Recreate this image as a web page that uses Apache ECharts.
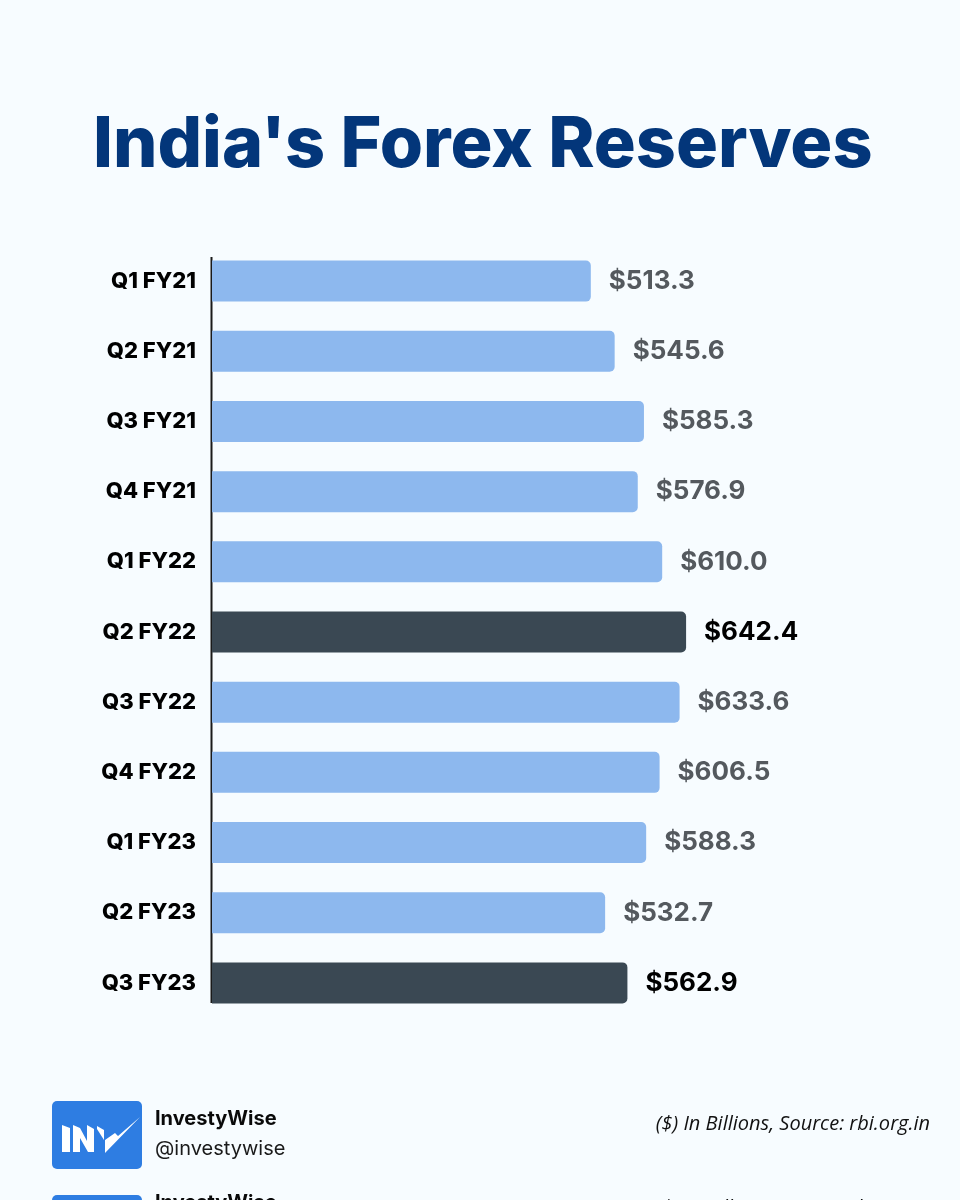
<!DOCTYPE html>
<html>
<head>
<meta charset="utf-8">
<style>
    html, body { margin: 0; padding: 0; background: #f7fcff; }
    #chart { width: 960px; height: 1200px; }
</style>
</head>
<body>
<div id="chart"></div>
<script src="https://cdn.jsdelivr.net/npm/echarts@6/dist/echarts.min.js"></script>
<script>
    var quarters = ['Q1 FY21', 'Q2 FY21', 'Q3 FY21', 'Q4 FY21', 'Q1 FY22', 'Q2 FY22',
        'Q3 FY22', 'Q4 FY22', 'Q1 FY23', 'Q2 FY23', 'Q3 FY23'];
    var reserves = [513.3, 545.6, 585.3, 576.9, 610.0, 642.4, 633.6, 606.5, 588.3, 532.7, 562.9];
    var highlighted = ['Q2 FY22', 'Q3 FY23'];

    var chart = echarts.init(document.getElementById('chart'));

    // bars
    var barData = reserves.map(function (v, i) {
        var on = highlighted.indexOf(quarters[i]) >= 0;
        return {
            value: v,
            itemStyle: { color: on ? '#3a4853' : '#8db8ee' },
            label: { color: on ? '#000000' : '#54595e' }
        };
    });

    // footer, drawn twice because the second copy is cut off by the page edge
    function footer(logoY, textY) {
        var p = function (pts) {
            return pts.map(function (q) { return [q[0], q[1] + logoY]; });
        };
        var white = { fill: '#ffffff' };
        return [
            { type: 'rect', shape: { x: 52, y: logoY, width: 90, height: 68, r: 5 }, style: { fill: '#2e7de2' } },
            { type: 'polygon', shape: { points: p([[62, 24], [70, 27], [70, 51], [62, 51]]) }, style: white },
            { type: 'polygon', shape: { points: p([[73, 24], [80, 27], [87, 40], [87, 24], [94, 28], [94, 51], [88, 51], [80, 37], [80, 51], [73, 51]]) }, style: white },
            { type: 'polygon', shape: { points: p([[97, 25], [104, 29], [104, 39], [97, 28]]) }, style: white },
            { type: 'polygon', shape: { points: p([[105, 39], [115, 32], [118, 35], [140, 16], [105, 52]]) }, style: white },
            { type: 'text', x: 155, y: textY, style: { text: 'InvestyWise', font: '700 20px Inter', fill: '#0a0a0a', textVerticalAlign: 'middle' } },
            { type: 'text', x: 155, y: textY + 30, style: { text: '@investywise', font: '400 20px Inter', fill: '#1a1a1a', textVerticalAlign: 'middle' } },
            { type: 'text', x: 930, y: textY + 5, style: { text: '($) In Billions, Source: rbi.org.in', font: 'italic 400 20px "Open Sans"', fill: '#111111', textAlign: 'right', textVerticalAlign: 'middle' } }
        ];
    }

    chart.setOption({
        animation: false,
        backgroundColor: '#f7fcff',
        title: {
            text: "India's Forex Reserves",
            left: 88,
            top: 106,
            textStyle: { fontFamily: 'Inter', fontWeight: 800, fontSize: 70, color: '#03367a' }
        },
        grid: { left: 212, top: 246, width: 738, height: 772 },
        xAxis: { type: 'value', min: 0, max: 1000, show: false },
        yAxis: {
            type: 'category',
            data: quarters,
            inverse: true,
            axisLine: { show: false },
            axisTick: { show: false },
            axisLabel: { margin: 16, fontFamily: 'Inter', fontWeight: 800, fontSize: 22, color: '#000000' }
        },
        series: [{
            type: 'bar',
            data: barData,
            barWidth: 41,
            itemStyle: { borderRadius: [0, 5, 5, 0] },
            label: {
                show: true,
                position: 'right',
                distance: 18,
                fontFamily: 'Inter',
                fontWeight: 700,
                fontSize: 26,
                formatter: function (o) { return '$' + o.value.toFixed(1); }
            }
        }],
        graphic: [
            { type: 'line', shape: { x1: 211.5, y1: 257, x2: 211.5, y2: 1003 }, style: { stroke: '#1a1a1a', lineWidth: 2 } }
        ].concat(footer(1101, 1119)).concat(footer(1195, 1203))
    });
</script>
</body>
</html>
